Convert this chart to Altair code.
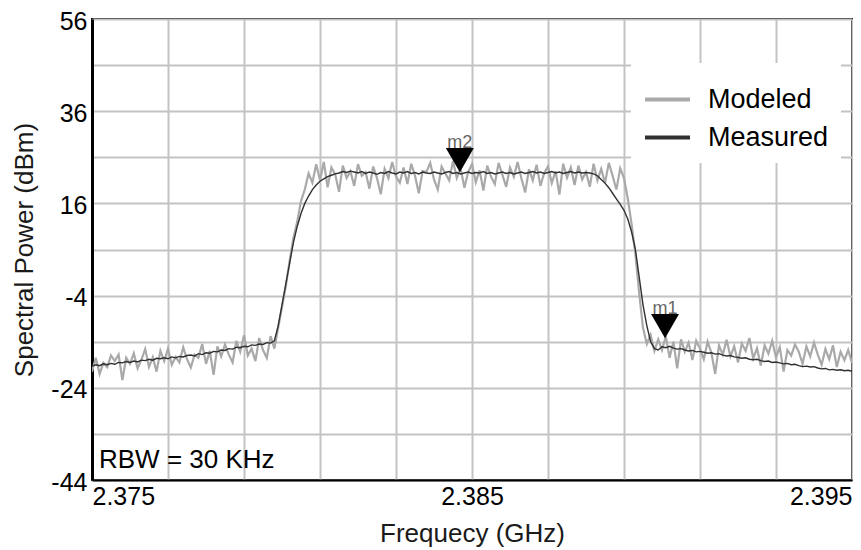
import altair as alt
import pandas as pd

# ---------------- data ----------------
FREQ_START_GHZ = 2.375
FREQ_STEP_GHZ = 0.0001   # sweep grid, 201 points from 2.375 to 2.395 GHz

modeled_dbm = [
    -20.5, -17.5, -21.0, -18.6, -19.5, -17.0, -18.2, -16.8, -22.3, -17.5,
    -18.8, -16.5, -19.8, -17.9, -15.6, -19.5, -17.4, -20.5, -16.0, -18.2,
    -15.5, -19.0, -17.3, -18.5, -15.2, -17.8, -19.6, -16.8, -17.5, -14.5,
    -18.8, -16.0, -21.2, -15.0, -17.2, -14.6, -16.8, -18.5, -13.8, -16.2,
    -12.6, -17.0, -15.5, -18.2, -13.2, -15.8, -17.5, -12.8, -15.5, -11.0,
    -6.5, -2.0, 3.5, 8.5, 12.0, 16.5, 19.0, 22.5, 20.5, 24.5,
    21.0, 25.0, 19.5, 23.8, 22.3, 18.5, 24.2, 21.5, 23.0, 19.8,
    24.5, 22.0, 22.8, 19.2, 24.0, 21.5, 18.0, 23.5, 21.5, 25.0,
    21.8, 20.5, 23.8, 20.2, 24.6, 22.0, 18.2, 23.0, 22.8, 24.8,
    21.2, 19.0, 24.0, 22.5, 21.0, 25.2, 21.5, 23.6, 19.4, 22.8,
    24.5, 20.6, 23.2, 18.8, 24.2, 21.8, 20.2, 24.8, 22.2, 19.6,
    23.8, 21.8, 25.0, 21.4, 18.4, 23.4, 21.0, 24.4, 19.8, 22.6,
    24.0, 20.4, 23.0, 17.9, 24.6, 21.6, 23.8, 20.0, 24.2, 21.2,
    22.8, 19.6, 24.6, 21.0, 23.5, 20.4, 24.8, 22.0, 19.0, 23.6,
    21.5, 17.0, 11.5, 5.0, -3.5, -11.0, -14.5, -12.5, -16.0, -13.5,
    -15.8, -12.8, -17.5, -14.0, -19.8, -13.5, -16.2, -14.2, -18.0, -13.8,
    -15.5, -17.8, -14.0, -16.4, -21.0, -14.8, -16.8, -13.6, -17.2, -15.0,
    -18.5, -14.4, -16.0, -13.2, -17.6, -15.4, -19.2, -14.8, -16.6, -13.8,
    -17.4, -15.2, -20.5, -15.8, -17.0, -14.6, -16.2, -18.8, -15.0, -17.2,
    -14.2, -16.8, -19.0, -15.6, -17.8, -14.8, -19.5, -16.2, -18.0, -15.8,
    -18.6,
]

measured_dbm = [
    -19.3, -19.0, -19.2, -18.8, -19.0, -18.7, -18.9, -18.5, -18.6, -18.3,
    -18.5, -18.2, -18.4, -18.0, -18.1, -17.8, -18.0, -17.6, -17.7, -17.5,
    -17.7, -17.3, -17.5, -17.2, -17.3, -17.0, -16.9, -17.1, -16.6, -16.8,
    -16.4, -16.5, -16.1, -16.2, -15.8, -15.9, -15.5, -15.6, -15.2, -15.3,
    -15.0, -15.1, -14.7, -14.8, -14.5, -14.6, -14.2, -14.3, -13.8, -10.5,
    -6.0, -1.5, 3.0, 7.5, 11.0, 13.8, 16.0, 17.6, 19.0, 20.0,
    20.8, 21.3, 21.8, 22.1, 22.4, 22.6, 22.9, 22.7, 23.0, 22.8,
    22.6, 22.9, 22.5, 22.8, 22.6, 22.3, 22.7, 22.5, 22.9, 22.6,
    22.4, 22.8, 22.6, 22.9, 22.5, 22.7, 22.4, 22.8, 22.6, 22.5,
    22.8, 22.6, 22.4, 22.7, 22.9, 22.5, 22.7, 22.4, 22.6, 22.8,
    22.5, 22.7, 22.6, 22.9, 22.5, 22.7, 22.4, 22.6, 22.8, 22.5,
    22.7, 22.4, 22.6, 22.8, 22.5, 22.7, 22.9, 22.6, 22.8, 22.5,
    22.7, 22.9, 22.6, 22.8, 22.5, 22.7, 22.9, 22.6, 22.8, 22.6,
    22.7, 22.6, 22.4, 22.0, 21.2, 20.4, 19.4, 18.2, 17.0, 15.8,
    14.5, 12.6, 9.8, 6.0, 0.0, -6.0, -10.5, -14.0, -15.5, -15.8,
    -15.1, -15.3, -15.0, -15.4, -15.6, -15.5, -15.8, -16.0, -15.9, -16.2,
    -16.1, -16.3, -16.5, -16.4, -16.7, -16.6, -16.9, -17.1, -17.0, -17.3,
    -17.4, -17.6, -17.5, -17.8, -17.9, -17.8, -18.1, -18.3, -18.2, -18.5,
    -18.4, -18.6, -18.8, -18.7, -19.0, -18.9, -19.2, -19.4, -19.3, -19.5,
    -19.4, -19.7, -19.9, -19.8, -20.1, -20.0, -20.2, -20.1, -20.3, -20.2,
    -20.4,
]

marker_names = ["m1", "m2"]
marker_freq = [2.39008, 2.38468]
marker_dbm = [-13.2, 22.8]

series_names = ["Modeled", "Measured"]
series_colors = ["#a9a9a9", "#303030"]

x_grid_ticks = [2.375, 2.377, 2.379, 2.381, 2.383, 2.385, 2.387, 2.389, 2.391, 2.393, 2.395]
y_grid_ticks = [-44, -34, -24, -14, -4, 6, 16, 26, 36, 46, 56]

# ---------------- build tables ----------------
freq = [round(FREQ_START_GHZ + i * FREQ_STEP_GHZ, 5) for i in range(len(modeled_dbm))]
df_mod = pd.DataFrame({"freq": freq, "power": modeled_dbm, "series": "Modeled"})
df_meas = pd.DataFrame({"freq": freq, "power": measured_dbm, "series": "Measured"})
df_mk = pd.DataFrame({"freq": marker_freq, "power": marker_dbm, "name": marker_names})
df_note = pd.DataFrame({"t": ["RBW = 30 KHz"]})

FONT = "Liberation Sans"

x_enc = alt.X(
    "freq:Q",
    scale=alt.Scale(domain=[2.375, 2.395], nice=False, zero=False),
    axis=alt.Axis(
        title="Frequecy (GHz)",
        values=x_grid_ticks,
        labelExpr="(abs(datum.value-2.375)<1e-7 || abs(datum.value-2.385)<1e-7 || abs(datum.value-2.395)<1e-7) ? format(datum.value, '.3f') : ''",
        labelFlush=True,
        labelOverlap=False,
        labelFontSize=25,
        labelPadding=4,
        titleFontSize=26,
        titleFontWeight="normal",
        titlePadding=11,
        ticks=False,
        grid=True,
        gridColor="#c3c3c3",
        gridWidth=2,
        domainColor="black",
        domainWidth=2,
        labelColor="black",
        titleColor="#1a1a1a",
    ),
)
y_enc = alt.Y(
    "power:Q",
    scale=alt.Scale(domain=[-44, 56], nice=False, zero=False),
    axis=alt.Axis(
        title="Spectral Power (dBm)",
        values=y_grid_ticks,
        labelExpr="((datum.value + 44) % 20 == 0) ? datum.value : ''",
        labelOverlap=False,
        labelFontSize=25,
        labelPadding=5,
        labelOffset=2,
        titleFontSize=26,
        titleFontWeight="normal",
        titlePadding=13,
        ticks=False,
        grid=True,
        gridColor="#c3c3c3",
        gridWidth=2,
        domainColor="black",
        domainWidth=3,
        labelColor="black",
        titleColor="#1a1a1a",
    ),
)

color_enc = alt.Color(
    "series:N",
    scale=alt.Scale(domain=series_names, range=series_colors),
    legend=alt.Legend(
        title=None,
        orient="none",
        legendX=539,
        legendY=44,
        fillColor="white",
        padding=12,
        symbolType="stroke",
        symbolSize=2025,
        symbolStrokeWidth=4,
        labelFontSize=27,
        labelFont=FONT,
        labelColor="black",
        labelOffset=16,
        rowPadding=-14,
    ),
)

modeled_line = alt.Chart(df_mod).mark_line(strokeWidth=2.2, clip=True).encode(
    x=x_enc, y=y_enc, color=color_enc
)
measured_line = alt.Chart(df_meas).mark_line(strokeWidth=1.4, clip=True).encode(
    x=x_enc, y=y_enc, color=color_enc
)
markers = alt.Chart(df_mk).mark_point(
    shape="triangle-down", filled=True, size=784, color="black", opacity=1, yOffset=-12
).encode(x="freq:Q", y="power:Q")
marker_labels = alt.Chart(df_mk).mark_text(
    fontSize=18, font=FONT, color="#666666", dy=-24, baseline="alphabetic"
).encode(x="freq:Q", y="power:Q", text="name:N")
note = alt.Chart(df_note).mark_text(
    fontSize=26, font=FONT, color="black", align="left", baseline="alphabetic"
).encode(x=alt.value(7), y=alt.value(449), text="t:N")

chart = (
    alt.layer(modeled_line, measured_line, markers, marker_labels, note)
    .properties(
        width=760,
        height=461,
        padding={"left": 84, "top": 11, "right": 1, "bottom": 69},
        autosize=alt.AutoSizeParams(type="none"),
    )
    .configure(font=FONT, background="white")
    .configure_view(stroke="black", strokeWidth=2)
)

chart.save("out.html", embed_options={"renderer": "svg", "actions": False})
